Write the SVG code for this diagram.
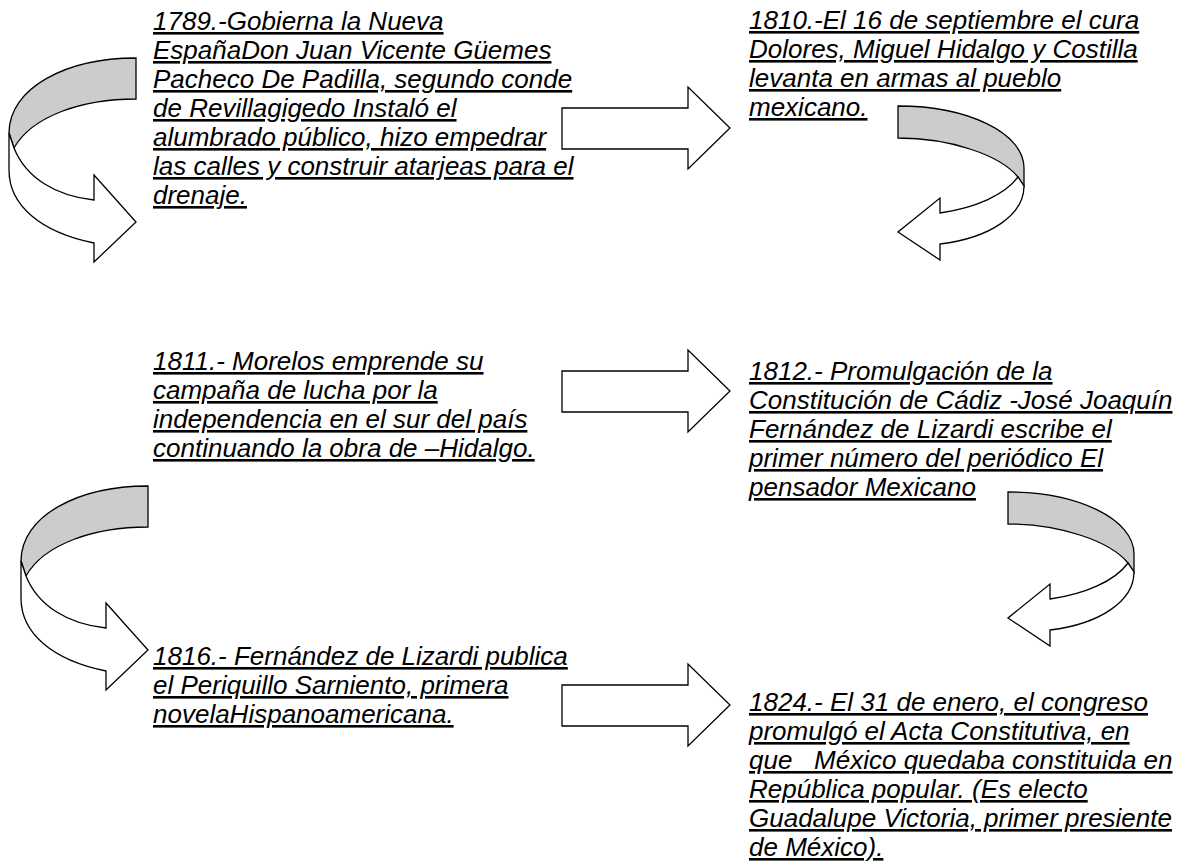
<svg xmlns="http://www.w3.org/2000/svg" xmlns:xlink="http://www.w3.org/1999/xlink" width="1188" height="863" viewBox="0 0 1188 863">
<style>
.t{font-family:"Liberation Sans",Arial,sans-serif;font-style:italic;font-size:26px;text-decoration:underline;fill:#000}
.ar{stroke:#000;stroke-width:1.3;stroke-linejoin:miter}
.back{fill:#cccccc}
.front{fill:#ffffff}
</style>
<defs>
<g id="curveR">
<path class="ar back" d="M136,58 C66,58 9,88 9,133 L14,148 C32,116 82,99 136,99 Z"/>
<path class="ar front" d="M14,148 C26,178 56,196 94,200 L94,175 L136,222 L94,262 L94,243 C40,232 9,205 9,170 L9,133 Z"/>
</g>
<g id="curveL">
<path class="ar back" d="M898,106 C968,106 1024,133 1024,168 L1024,186 L1018,177 C1000,155 950,138 898,138 Z"/>
<path class="ar front" d="M1018,177 C1005,195 975,208 940,213 L940,198 L898,232 L940,260 L940,244 C990,238 1024,215 1024,186 Z"/>
</g>
<path id="block" class="ar front" d="M562,108 L688,108 L688,87 L730,128 L688,169 L688,149 L562,149 Z"/>
</defs>
<rect width="1188" height="863" fill="#fff"/>
<g id="connectors">
<use href="#curveR"/>
<use href="#block"/>
<use href="#curveL"/>
<use href="#block" transform="translate(0,263)"/>
<use href="#curveL" transform="translate(110,386)"/>
<use href="#curveR" transform="translate(12,428)"/>
<use href="#block" transform="translate(0,577)"/>
</g>
<g id="node-1789">
<text class="t"><tspan x="153" y="30">1789.-Gobierna la Nueva</tspan><tspan x="153" y="59">EspañaDon Juan Vicente Güemes</tspan><tspan x="153" y="88">Pacheco De Padilla, segundo conde</tspan><tspan x="153" y="117">de Revillagigedo Instaló el</tspan><tspan x="153" y="146">alumbrado público, hizo empedrar</tspan><tspan x="153" y="175">las calles y construir atarjeas para el</tspan><tspan x="153" y="204">drenaje.</tspan></text>
</g>
<g id="node-1810">
<text class="t"><tspan x="749" y="29">1810.-El 16 de septiembre el cura</tspan><tspan x="749" y="58">Dolores, Miguel Hidalgo y Costilla</tspan><tspan x="749" y="87">levanta en armas al pueblo</tspan><tspan x="749" y="116">mexicano.</tspan></text>
</g>
<g id="node-1811">
<text class="t"><tspan x="153" y="370">1811.- Morelos emprende su</tspan><tspan x="153" y="399">campaña de lucha por la</tspan><tspan x="153" y="428">independencia en el sur del país</tspan><tspan x="153" y="457">continuando la obra de –Hidalgo.</tspan></text>
</g>
<g id="node-1812">
<text class="t"><tspan x="749" y="380">1812.- Promulgación de la</tspan><tspan x="749" y="409">Constitución de Cádiz -José Joaquín</tspan><tspan x="749" y="438">Fernández de Lizardi escribe el</tspan><tspan x="749" y="467">primer número del periódico El</tspan><tspan x="749" y="496">pensador Mexicano</tspan></text>
</g>
<g id="node-1816">
<text class="t"><tspan x="153" y="665">1816.- Fernández de Lizardi publica</tspan><tspan x="153" y="694">el Periquillo Sarniento, primera</tspan><tspan x="153" y="723">novelaHispanoamericana.</tspan></text>
</g>
<g id="node-1824">
<text class="t"><tspan x="749" y="711">1824.- El 31 de enero, el congreso</tspan><tspan x="749" y="740">promulgó el Acta Constitutiva, en</tspan><tspan x="749" y="769" xml:space="preserve">que   México quedaba constituida en</tspan><tspan x="749" y="798">República popular. (Es electo</tspan><tspan x="749" y="827">Guadalupe Victoria, primer presiente</tspan><tspan x="749" y="856">de México).</tspan></text>
</g>
</svg>
